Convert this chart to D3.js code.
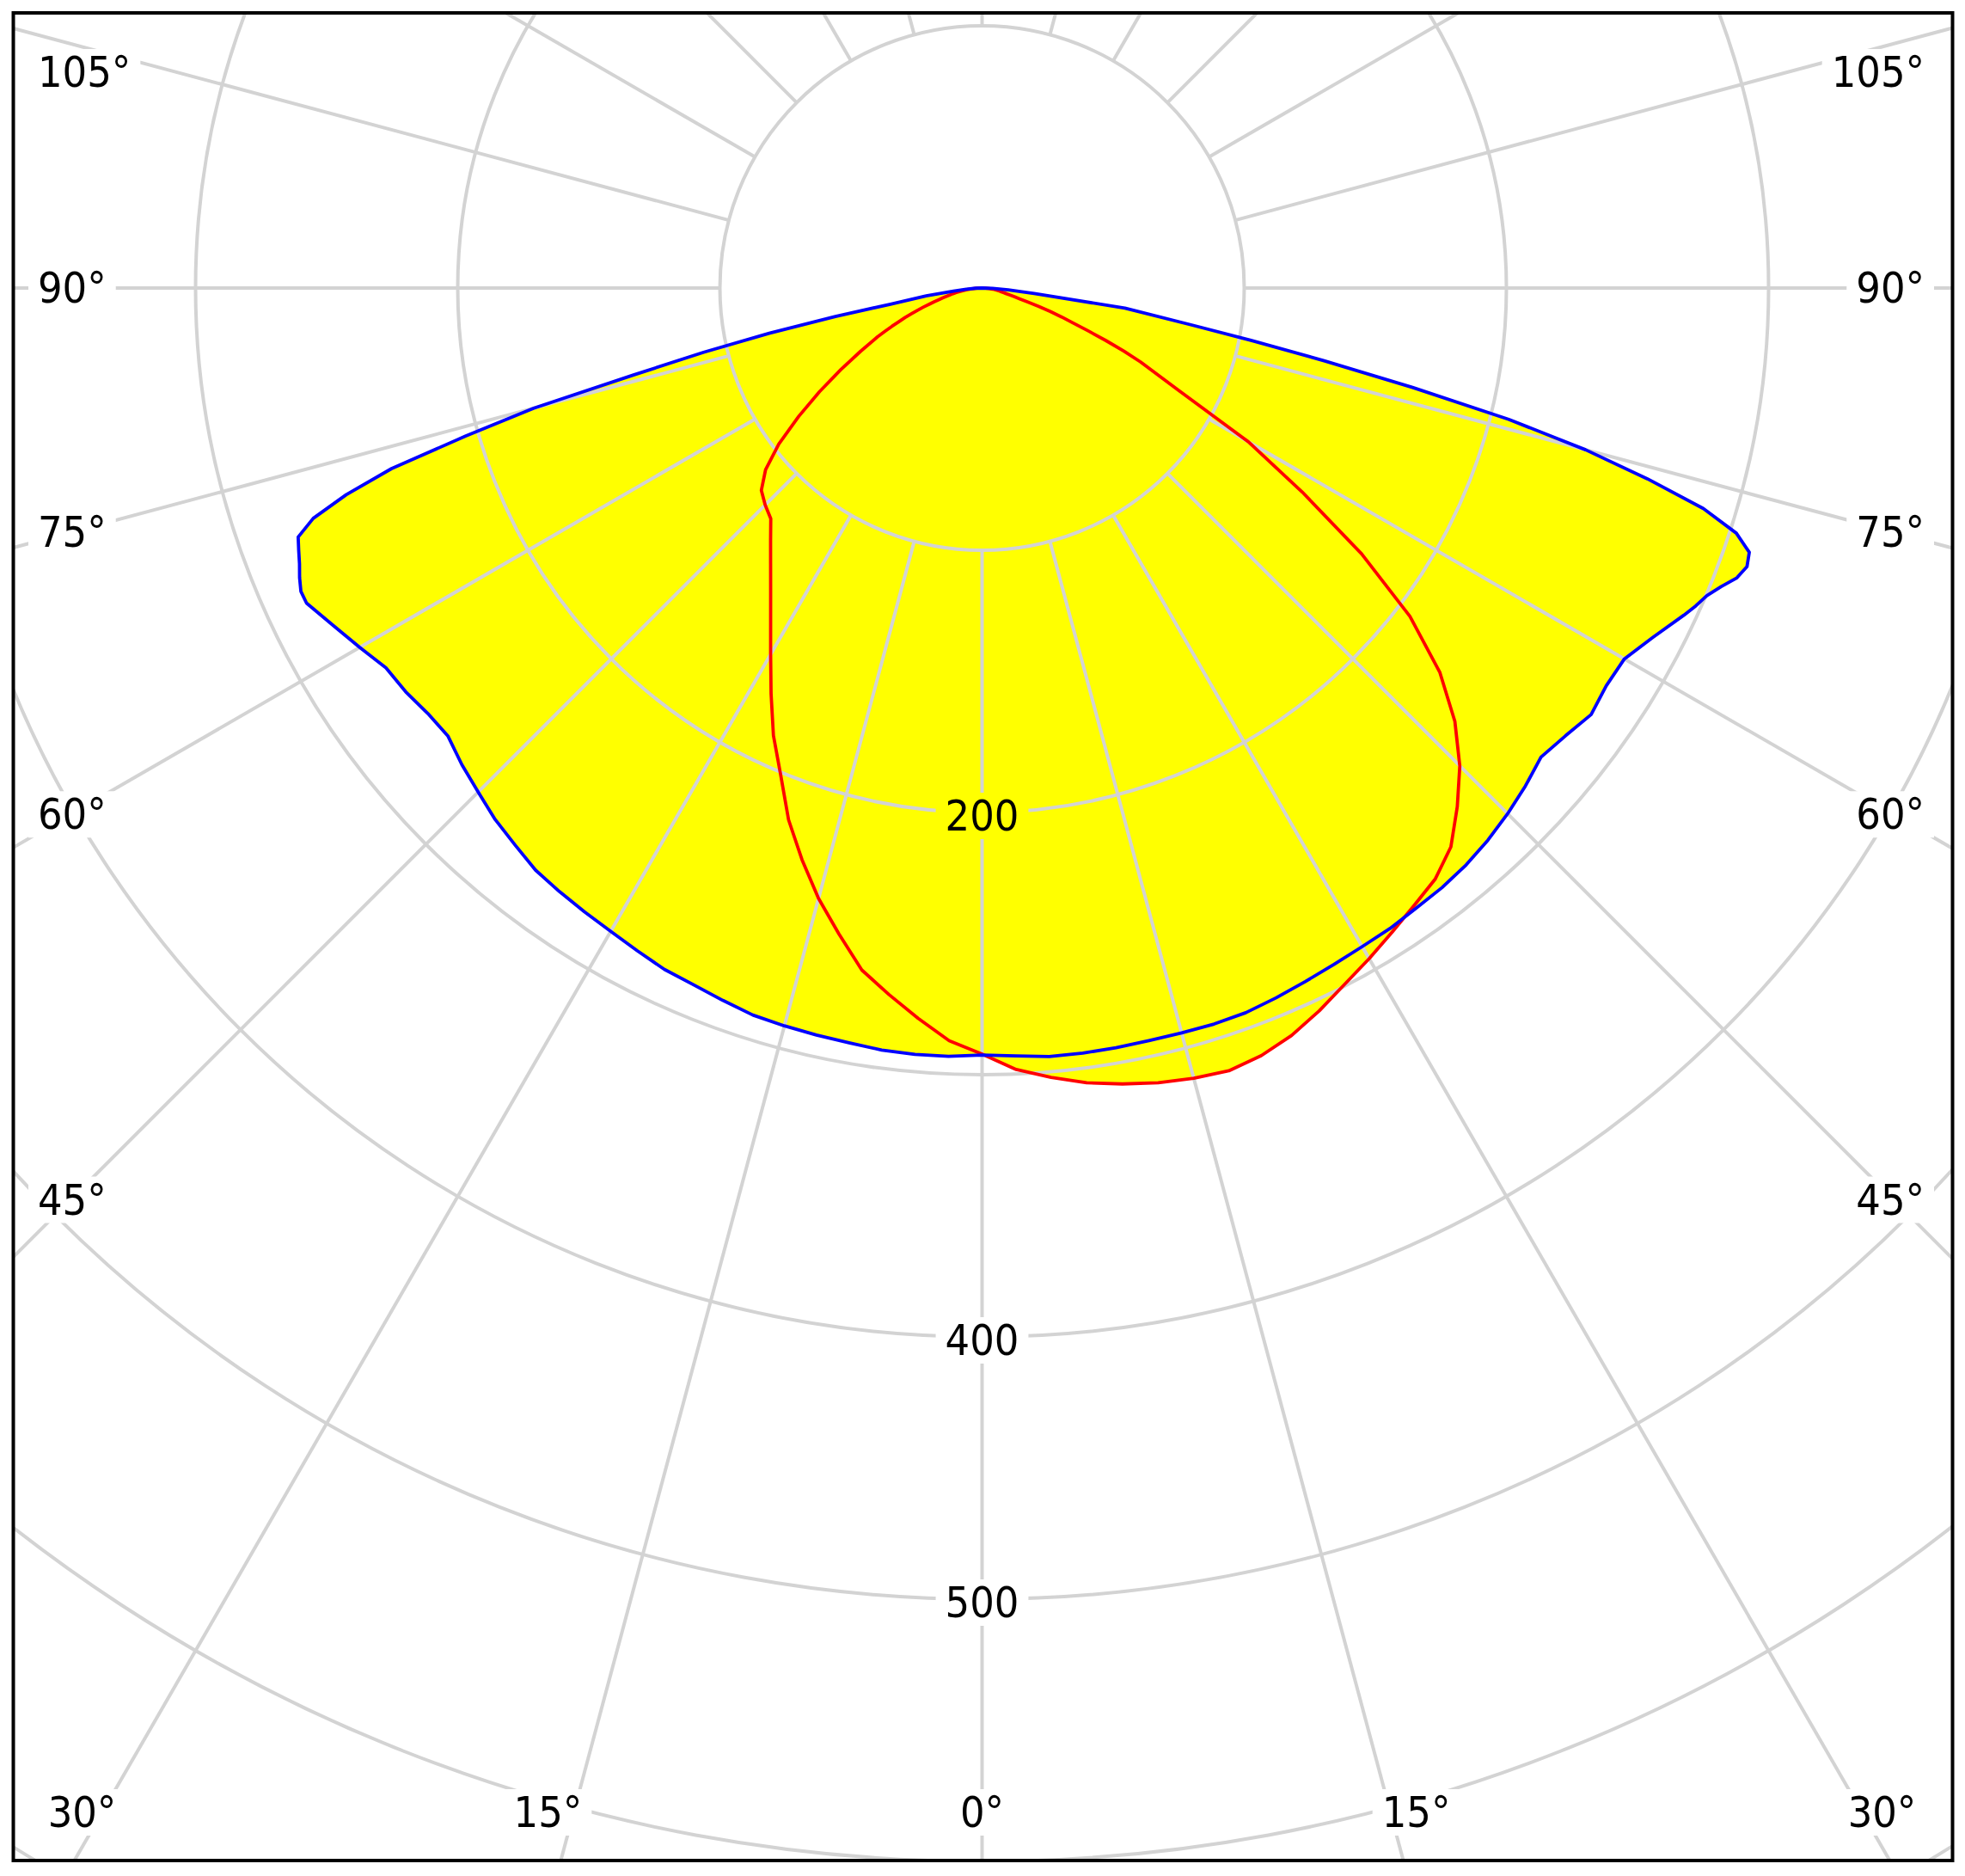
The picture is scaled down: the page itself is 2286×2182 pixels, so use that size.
<!DOCTYPE html>
<html>
<head>
<meta charset="utf-8">
<script src="https://cdn.jsdelivr.net/npm/d3@7"></script>
<style>
  body { margin: 0; background: #fff; }
  svg { display: block; }
</style>
</head>
<body>
<svg id="chart"></svg>
<script>
// polar angles (deg, 0 = straight down) and intensities (cd)
const angles = [0, 2.5, 5, 7.5, 10, 12.5, 15, 17.5, 20, 22.5, 25, 27.5, 30, 32.5, 35, 37.5, 40, 42.5,
  45, 47.5, 50, 52.5, 55, 57.5, 60, 62.5, 65, 66, 67, 68, 69, 70, 71, 72, 73, 74, 75, 76, 77, 78, 79, 80,
  82, 84, 86, 88, 90]

// blue plane, left half / right half
const blueLeft = [292.5, 293.3, 293.4, 293.1, 292.3, 291.8, 291.3, 290.7, 289.1, 287.6, 286.7, 284.9,
  283.3, 282.1, 281, 279.8, 277.2, 274.9, 271.8, 269.1, 265.9, 266.5, 268.4, 269.6, 274.1, 278.9, 284.3,
  284.4, 282.8, 280.8, 279.2, 277.6, 269.8, 255, 235.5, 205, 177, 137, 109, 83, 57, 35.5,
  21.5, 11, 6, 2.5, 0]
const blueRight = [292.5, 293.1, 294.2, 294.3, 294.2, 294, 294.1, 294.3, 294.1, 293, 291.8, 290.8,
  290, 289.6, 288.7, 288.2, 287.2, 285.6, 283.5, 281.1, 278.3, 280.5, 283.6, 282.3, 282.9, 288.5, 295.3,
  298, 300.3, 304, 308.4, 310.5, 309.5, 302.5, 287.7, 264, 238.3, 207, 168.5, 133.4, 104.5, 81.2,
  55, 20, 10, 4, 0]

// red plane, left half / right half
const redLeft = [292.1, 287.3, 279.6, 271.8, 264.1, 252.3, 241, 228.5, 215.8, 200.8, 188.3, 174.3,
  161.3, 150.1, 140.6, 132.5, 125.5, 119.3, 117, 114.2, 107.8, 97.7, 85.4, 73.5, 62.2, 52.2, 44,
  40.5, 37.3, 34.2, 31.5, 28.5, 26, 23.5, 21, 19, 17, 15.3, 13.8, 12.5, 11.3, 10,
  7.8, 5.8, 3.8, 1.8, 0]
const redRight = [292.1, 298.3, 302.2, 305.7, 308.2, 310.4, 312, 313, 311.5, 308.5, 304.2, 299.4,
  295.3, 291.2, 287.4, 284, 278.2, 268.3, 257.7, 244.6, 227.9, 205.7, 176.7, 144.8, 117.3, 84.5, 66.7,
  59.2, 51.4, 43.7, 37, 32.3, 27.5, 22.8, 18, 14.8, 12.7, 10.6, 9.3, 8.3, 7.5, 6.7,
  5.3, 4, 2.7, 1.3, 0]

const rings = [100, 200, 300, 400, 500, 600, 700]
const ringLabels = [200, 400, 500]
const sideLabels = [45, 60, 75, 90, 105]
const bottomLabels = [0, 15, 30]

const W = 2286, H = 2182
const frame = {x: 15.5, y: 15, w: 2256, h: 2149}
const cx = 1142.5, cy = 335
const font = "'DejaVu Sans Condensed', 'DejaVu Sans', sans-serif"
const rad = d => d * Math.PI / 180

const r = d3.scaleLinear().domain([0, 100]).range([0, 305])

const svg = d3.select("#chart").attr("width", W).attr("height", H)
const defs = svg.append("defs")

defs.append("clipPath").attr("id", "box")
  .append("rect")
  .attr("x", frame.x).attr("y", frame.y)
  .attr("width", frame.w).attr("height", frame.h)

// grid lines get cut where the labels sit
const gaps = defs.append("mask").attr("id", "gaps")
  .attr("maskUnits", "userSpaceOnUse")
  .attr("x", 0).attr("y", 0).attr("width", W).attr("height", H)
gaps.append("rect").attr("width", W).attr("height", H).attr("fill", "#fff")

const plot = svg.append("g").attr("clip-path", "url(#box)")
const fillLayer = plot.append("g").attr("transform", `translate(${cx},${cy})`)
const gridLayer = plot.append("g").attr("mask", "url(#gaps)")
  .append("g").attr("transform", `translate(${cx},${cy})`)
const curveLayer = plot.append("g").attr("transform", `translate(${cx},${cy})`)

// closed outline: right half from 90 down to 0, then left half from 0 up to 90
function outline(left, right) {
  const pts = []
  for (let i = angles.length - 1; i >= 0; i--) pts.push({a: Math.PI - rad(angles[i]), v: right[i]})
  for (let i = 1; i < angles.length; i++) pts.push({a: Math.PI + rad(angles[i]), v: left[i]})
  return pts
}

const radial = d3.lineRadial()
  .angle(d => d.a)
  .radius(d => r(d.v))
  .curve(d3.curveLinearClosed)

const blue = outline(blueLeft, blueRight)
const red = outline(redLeft, redRight)

fillLayer.selectAll("path")
  .data([red, blue])
  .enter().append("path")
  .attr("d", radial)
  .attr("fill", "#ffff00")
  .attr("stroke", "none")

gridLayer.selectAll("circle")
  .data(rings)
  .enter().append("circle")
  .attr("r", d => r(d))
  .attr("fill", "none")
  .attr("stroke", "#d3d3d3")
  .attr("stroke-width", 4)

gridLayer.selectAll("line")
  .data(d3.range(0, 360, 15))
  .enter().append("line")
  .attr("x1", d => r(100) * Math.sin(rad(d)))
  .attr("y1", d => r(100) * Math.cos(rad(d)))
  .attr("x2", d => r(800) * Math.sin(rad(d)))
  .attr("y2", d => r(800) * Math.cos(rad(d)))
  .attr("stroke", "#d3d3d3")
  .attr("stroke-width", 4)

curveLayer.append("path").datum(red)
  .attr("d", radial)
  .attr("fill", "none")
  .attr("stroke", "#ff0000")
  .attr("stroke-width", 3.8)
  .attr("stroke-linejoin", "round")

curveLayer.append("path").datum(blue)
  .attr("d", radial)
  .attr("fill", "none")
  .attr("stroke", "#0000ff")
  .attr("stroke-width", 3.8)
  .attr("stroke-linejoin", "round")

// labels
const labels = []
ringLabels.forEach(v => labels.push({text: String(v), x: cx, y: cy + r(v) + 4, anchor: "middle"}))

const reach = cx - 82
sideLabels.forEach(a => {
  const y = Math.max(84, cy + reach * Math.cos(rad(a)) / Math.sin(rad(a)))
  labels.push({text: a + "°", x: 44, y: y, anchor: "start"})
  labels.push({text: a + "°", x: 2239, y: y, anchor: "end"})
})

const by = 2108
bottomLabels.forEach(a => {
  if (a === 0) {
    labels.push({text: "0°", x: cx, y: by, anchor: "middle"})
    return
  }
  const dx = Math.min(1047, Math.tan(rad(a)) * (by - cy) + 30)
  labels.push({text: a + "°", x: cx - dx, y: by, anchor: "middle"})
  labels.push({text: a + "°", x: cx + dx, y: by, anchor: "middle"})
})

const texts = plot.append("g").selectAll("text")
  .data(labels)
  .enter().append("text")
  .attr("x", d => d.x)
  .attr("y", d => d.y)
  .attr("text-anchor", d => d.anchor)
  .attr("dominant-baseline", "central")
  .attr("font-family", font)
  .attr("font-stretch", "condensed")
  .attr("font-size", 50)
  .attr("fill", "#000")
  .text(d => d.text)

texts.each(function() {
  const b = this.getBBox()
  gaps.append("rect")
    .attr("x", b.x - 11).attr("y", b.y + 2)
    .attr("width", b.width + 22).attr("height", b.height - 4)
    .attr("fill", "#000")
})

// frame
svg.append("rect")
  .attr("x", frame.x).attr("y", frame.y)
  .attr("width", frame.w).attr("height", frame.h)
  .attr("fill", "none")
  .attr("stroke", "#000")
  .attr("stroke-width", 4)
</script>
</body>
</html>
